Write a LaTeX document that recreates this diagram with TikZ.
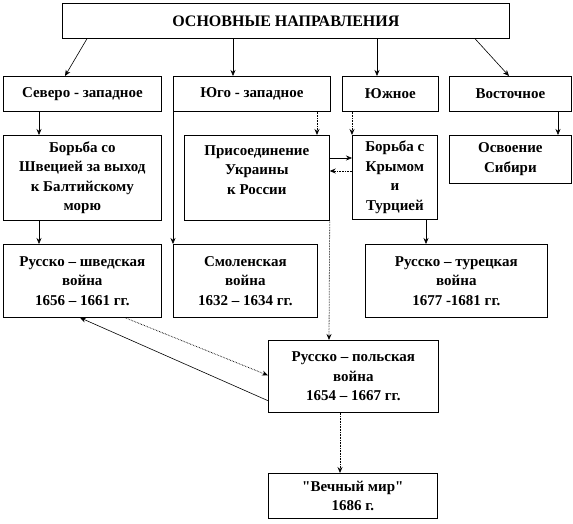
\documentclass[tikz,border=0pt]{standalone}
\usepackage{fontspec}
\setmainfont{Liberation Serif}[Ligatures=TeXOff]
\usetikzlibrary{arrows.meta}
\begin{document}
\begin{tikzpicture}[x=1pt,y=-1pt,
  txt/.style={inner sep=0pt, align=center, font=\fontsize{15}{19.5}\selectfont\bfseries},
  box/.style={txt, draw, line width=0.7pt, anchor=north west},
  arr/.style={-{Stealth[length=6pt,width=5pt]}, line width=0.6pt},
  darr/.style={arr, densely dotted, line width=0.8pt}]
\useasboundingbox (0,0) rectangle (573,524);
% boxes
\node[box, minimum width=447pt, minimum height=35pt, font=\fontsize{16}{19.5}\selectfont\bfseries] (top) at (62,3) {ОСНОВНЫЕ НАПРАВЛЕНИЯ};
\node[box, minimum width=158pt, minimum height=35pt] (nw) at (3,76) {Северо - западное};
\node[box, minimum width=157pt, minimum height=35pt] (sw) at (173,76) {Юго - западное};
\node[box, minimum width=96pt, minimum height=35pt] (south) at (342,76) {Южное};
\node[box, minimum width=122pt, minimum height=35pt] (east) at (449,76) {Восточное};
\node[box, minimum width=158pt, minimum height=85pt] (sweden) at (3,135) {Борьба со\\Швецией за выход\\к Балтийскому\\морю};
\node[box, minimum width=145pt, minimum height=85pt] (ukr) at (184,135) {};
\node[txt] (ukrtext) at ([yshift=8pt]ukr.center) {Присоединение\\Украины\\к России};
\node[box, minimum width=85pt, minimum height=84pt] (crimea) at (352,135) {Борьба с\\Крымом\\и\\Турцией};
\node[box, minimum width=122pt, minimum height=48pt] (siberia) at (449,135) {Освоение\\Сибири};
\node[box, minimum width=158pt, minimum height=73pt] (rsw) at (3,244) {Русско – шведская\\война\\1656 – 1661 гг.};
\node[box, minimum width=144pt, minimum height=73pt] (smol) at (173,244) {Смоленская\\война\\1632 – 1634 гг.};
\node[box, minimum width=182pt, minimum height=73pt] (rtur) at (365,244) {Русско – турецкая\\война\\1677 -1681 гг.};
\node[box, minimum width=170pt, minimum height=72pt] (rpol) at (268,340) {Русско – польская\\война\\1654 – 1667 гг.};
\node[box, minimum width=169pt, minimum height=45pt] (peace) at (268,473) {"Вечный мир"\\1686 г.};
% connectors
\draw[arr] ([xshift=25pt]top.south west) -- ([xshift=62pt]nw.north west);
\draw[arr] ([xshift=171pt]top.south west) -- ([xshift=60pt]sw.north west);
\draw[arr] ([xshift=315pt]top.south west) -- ([xshift=35pt]south.north west);
\draw[arr] ([xshift=413pt]top.south west) -- ([xshift=60pt]east.north west);
\draw[arr] ([xshift=36pt]nw.south west) -- ([xshift=36pt]sweden.north west);
\draw[arr] ([xshift=36pt]sweden.south west) -- ([xshift=36pt]rsw.north west);
\draw[arr] (sw.south west) -- (smol.north west);
\draw[darr] ([xshift=144pt]sw.south west) -- ([xshift=133pt]ukr.north west);
\draw[darr] ([xshift=10pt]south.south west) -- (crimea.north west);
\draw[arr] ([yshift=-23pt]ukr.north east) -- ([yshift=-23pt]crimea.north west);
\draw[darr] ([yshift=-36pt]crimea.north west) -- ([yshift=-36pt]ukr.north east);
\draw[arr] ([xshift=109pt]east.south west) -- ([xshift=109pt]siberia.north west);
\draw[arr] ([xshift=74pt]crimea.south west) -- ([xshift=61pt]rtur.north west);
\draw[darr] (ukr.south east) -- ([xshift=61pt]rpol.north west);
\draw[darr] ([xshift=122pt]rsw.south west) -- ([yshift=1pt]rpol.west);
\draw[arr] ([yshift=12pt]rpol.south west) -- ([xshift=77pt]rsw.south west);
\draw[darr] ([xshift=72pt]rpol.south west) -- ([xshift=72pt]peace.north west);
\end{tikzpicture}
\end{document}
